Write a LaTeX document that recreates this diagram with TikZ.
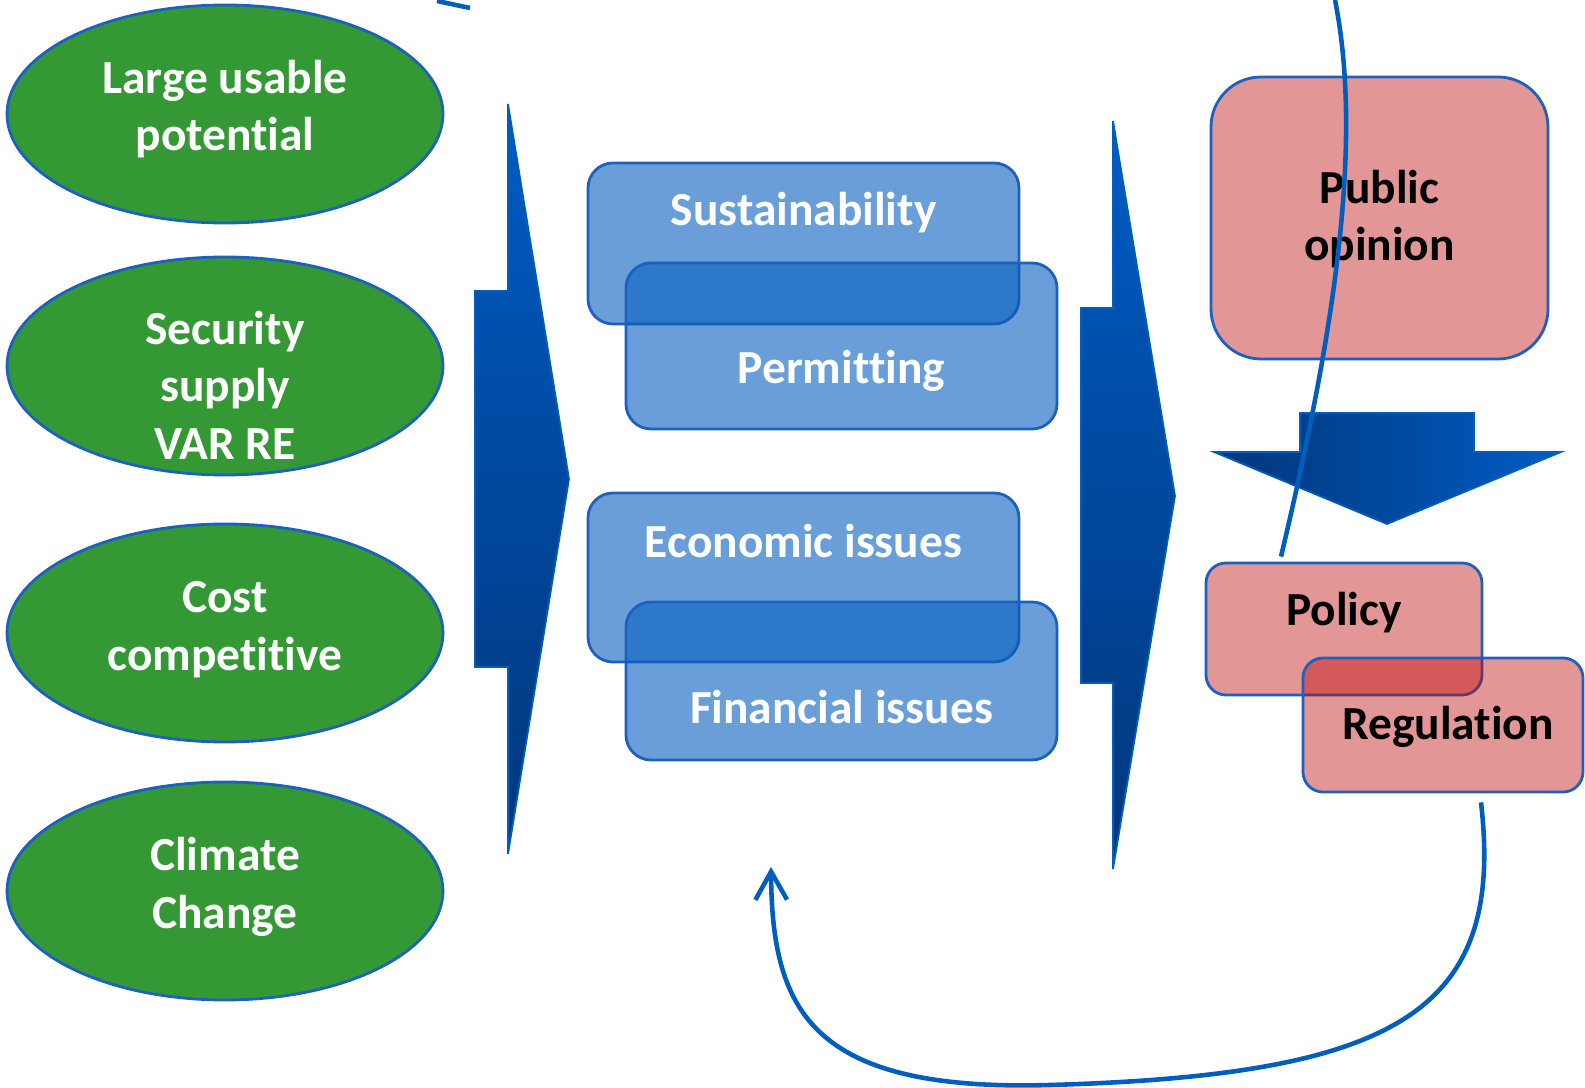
\documentclass[tikz,border=0pt]{standalone}
\usepackage{fontspec}
\setmainfont{Carlito}[Ligatures=NoCommon]
\usetikzlibrary{arrows.meta,shapes.geometric}

\definecolor{leafgreen}{RGB}{52,153,52}
\definecolor{edgeblue}{RGB}{30,96,192}
\definecolor{boxblue}{RGB}{5,94,190}
\definecolor{boxred}{RGB}{190,6,6}
\definecolor{linkblue}{RGB}{0,94,190}
\definecolor{arrowtop}{RGB}{0,92,196}
\definecolor{arrowbot}{RGB}{0,54,122}

\begin{document}
\begin{tikzpicture}[x=0.1mm, y=-0.1mm,
		bigfont/.style={font=\fontsize{13.5}{16.4}\selectfont\bfseries},
		goal/.style={ellipse, draw=edgeblue, line width=0.8pt, fill=leafgreen, minimum width=4.36cm, minimum height=2.18cm, inner sep=0pt},
		issue/.style={rectangle, rounded corners=0.25cm, draw=edgeblue, line width=0.8pt, fill=boxblue, fill opacity=0.6, minimum width=4.31cm, inner sep=0pt},
		actor/.style={rectangle, draw=edgeblue, line width=0.8pt, fill=boxred, fill opacity=0.425, inner sep=0pt},
		whitetext/.style={text=white, bigfont, align=center},
		blacktext/.style={text=black, bigfont, align=center},
		link/.style={draw=linkblue, line width=1.3pt},
	]
	\useasboundingbox (0,0) rectangle (1585,1088);

	% Drivers
	\node[goal] (usable) at (225,114) {};
	\node[goal] (security) at (225,366) {};
	\node[goal] (cost) at (225,633) {};
	\node[goal] (climate) at (225,891) {};
	\node[whitetext] (usableT) at ([yshift=0.5mm]usable.center) {Large usable\\potential};
	\node[whitetext] (securityT) at ([yshift=-1.9mm]security.center) {Security\\supply\\VAR RE};
	\node[whitetext] (costT) at ([yshift=0.3mm]cost.center) {Cost\\competitive};
	\node[whitetext] (climateT) at ([yshift=0.4mm]climate.center) {Climate\\Change};

	% Big arrows
	\shade[top color=arrowtop, bottom color=arrowbot, draw=linkblue, line width=0.5pt]
		(508,104) -- (569,479) -- (508,854) -- (508,667) -- (475,667) -- (475,291) -- (508,291) -- cycle;
	\shade[top color=arrowtop, bottom color=arrowbot, draw=linkblue, line width=0.5pt]
		(1113,121) -- (1175,496) -- (1113,869) -- (1113,683) -- (1081,683) -- (1081,308) -- (1113,308) -- cycle;

	% Barriers
	\node[issue, minimum height=1.61cm] (sust) at (803.5,243.5) {};
	\node[issue, minimum height=1.66cm] (perm) at (841.5,346) {};
	\node[whitetext] (sustT) at ([yshift=3.1mm]sust.center) {Sustainability};
	\node[whitetext] (permT) at ([yshift=-2.5mm]perm.center) {Permitting};

	\node[issue, minimum height=1.69cm] (econ) at (803.5,577.5) {};
	\node[issue, minimum height=1.58cm] (fin) at (841.5,681) {};
	\node[whitetext] (econT) at ([yshift=3.6mm]econ.center) {Economic issues};
	\node[whitetext] (finT) at ([yshift=-2.6mm]fin.center) {Financial issues};

	% Actors
	\node[actor, rounded corners=0.5cm, minimum width=3.37cm, minimum height=2.82cm] (pub) at (1379.5,218) {};
	\node[blacktext] (pubT) at ([yshift=-0.1mm]pub.center) {Public\\opinion};

	\shade[left color=arrowbot, right color=arrowtop, draw=linkblue, line width=0.5pt]
		(1300,413) -- (1474,413) -- (1474,452) -- (1561,452) -- (1387,524) -- (1214,452) -- (1300,452) -- cycle;

	\node[actor, rounded corners=0.2cm, minimum width=2.76cm, minimum height=1.32cm] (pol) at (1344,629) {};
	\node[actor, rounded corners=0.2cm, minimum width=2.80cm, minimum height=1.34cm] (reg) at (1443,725) {};
	\node[blacktext] (polT) at ([yshift=1.6mm]pol.center) {Policy};
	\node[blacktext] (regT) at ([xshift=0.5mm,yshift=-0.2mm]reg.center) {Regulation};

	% Feedback lines
	\coordinate (opIn) at (1335,0);
	\coordinate (fbTip) at (771,867);
	\coordinate (barbA) at (437,1);
	\coordinate (barbB) at (470,8);

	\draw[link] ([xshift=-6.3mm,yshift=0.5mm]pol.north) .. controls (1330,350) and (1365,150) .. (opIn);
	\draw[link, -{Straight Barb[length=8pt,width=9pt]}] ([xshift=3.8mm,yshift=-0.9mm]reg.south)
		.. controls (1505,1010) and (1400,1075) .. (1050,1085)
		.. controls (810,1092) and (772,1010) .. (fbTip);
	\draw[link] (barbA) -- (barbB);
\end{tikzpicture}
\end{document}
